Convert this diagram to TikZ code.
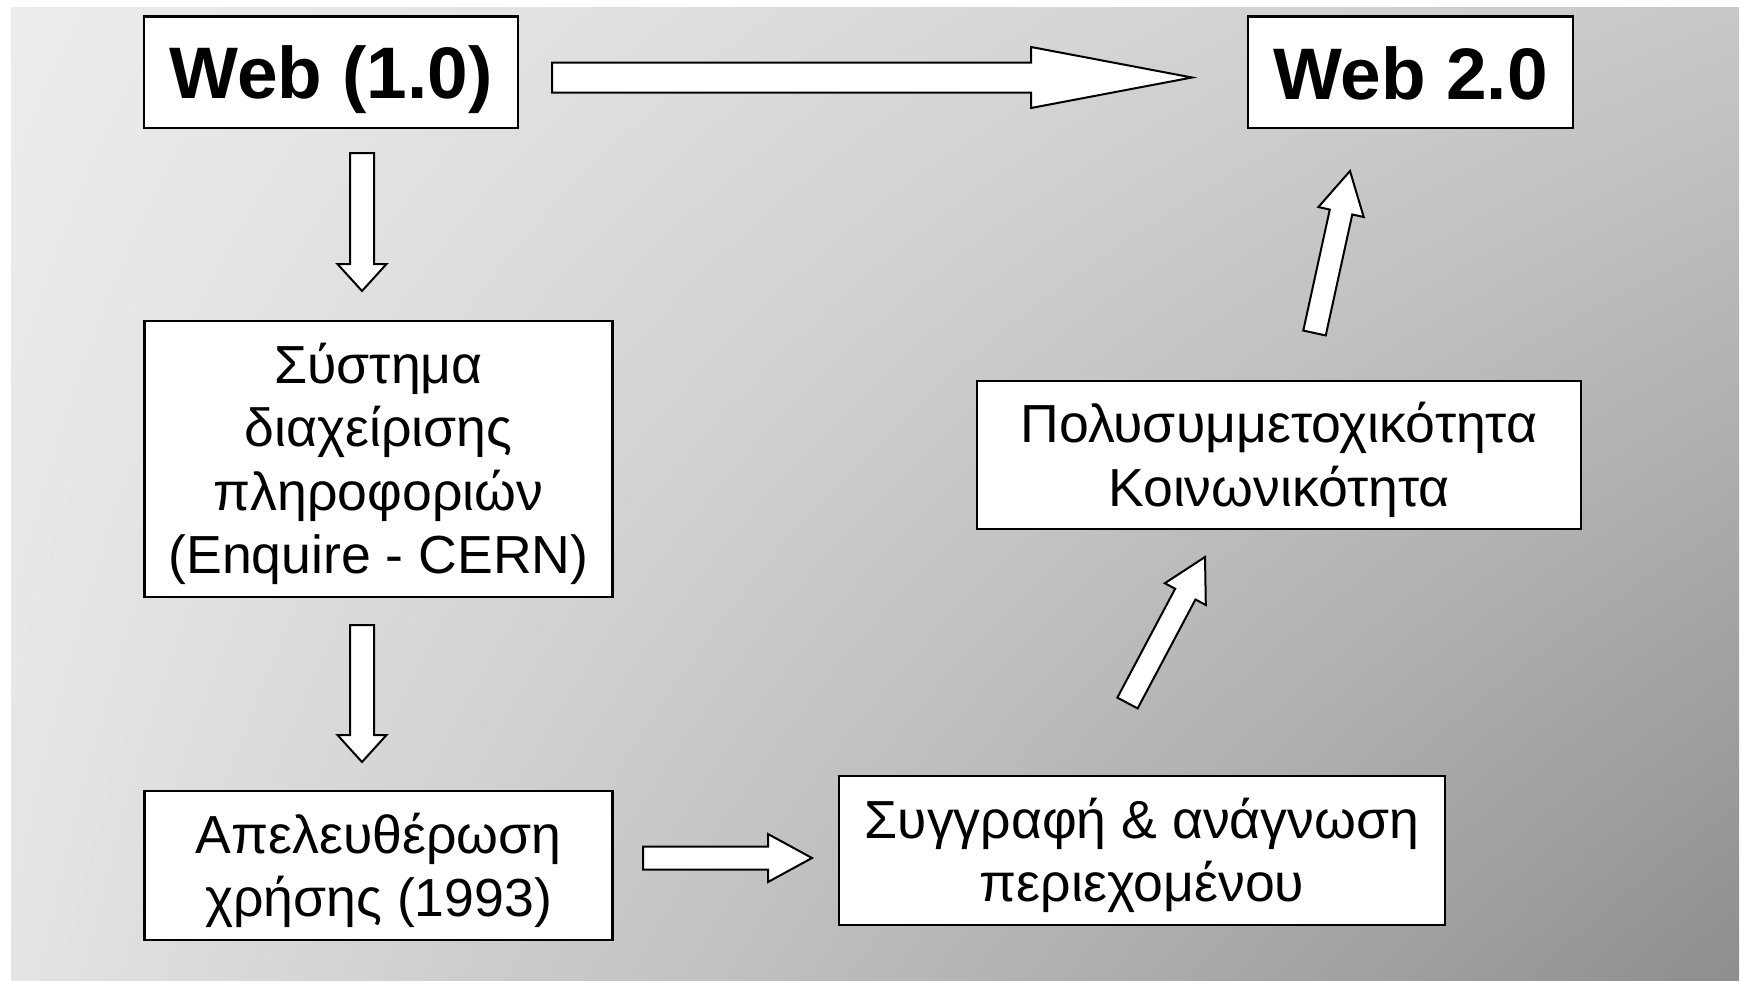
\documentclass[tikz,border=0pt]{standalone}
\usepackage{fontspec}
\setmainfont{Liberation Sans}
\usetikzlibrary{calc,shadings}
\definecolor{bgUL}{HTML}{EDEDED}
\definecolor{bgUR}{HTML}{C8C8C8}
\definecolor{bgLL}{HTML}{E4E4E4}
\definecolor{bgLR}{HTML}{8E8E8E}
\tikzset{
  box/.style={draw=black, line width=1.1pt, fill=white, inner sep=0pt},
  titletext/.style={inner sep=0pt, align=center, font=\fontsize{36.5}{44}\selectfont\bfseries},
  bodytext/.style={inner sep=0pt, align=center, font=\fontsize{26.8}{31.7}\selectfont},
  fatarrowstyle/.style={draw=black, line width=1pt, fill=white, line join=miter},
}
\newcommand\fatarrow[5]{%
  \coordinate (fa-h) at ($(#2)!#5!(#1)$);
  \draw[fatarrowstyle] ($(#1)!#3!90:(#2)$) -- ($(fa-h)!#3!-90:(#1)$) -- ($(fa-h)!#4!-90:(#1)$) -- (#2)
    -- ($(fa-h)!#4!90:(#1)$) -- ($(fa-h)!#3!90:(#1)$) -- ($(#1)!#3!-90:(#2)$) -- cycle;}
\begin{document}
\begin{tikzpicture}[x=0.5pt, y=-0.5pt]
\useasboundingbox (0,0) rectangle (1743,980);
\shade[upper left=bgUL, upper right=bgUR, lower left=bgLL, lower right=bgLR] (11,7) rectangle (1739,980);

% boxes
\node[box, minimum width=186.75pt, minimum height=55.6pt] (web1) at (331,72) {};
\node[box, minimum width=162.5pt, minimum height=55.6pt] (web2) at (1410.5,72) {};
\node[box, minimum width=234pt, minimum height=138pt] (sys) at (378.5,459) {};
\node[box, minimum width=234pt, minimum height=74.5pt] (apel) at (378.5,865.5) {};
\node[box, minimum width=303pt, minimum height=74.5pt] (syg) at (1142,850.5) {};
\node[box, minimum width=302pt, minimum height=74pt] (poly) at (1279,455) {};

% texts
\node[titletext] (web1-t) at ([yshift=-4pt]web1.center) {Web (1.0)};
\node[titletext] (web2-t) at ([yshift=-0.5pt]web2.center) {Web 2.0};
\node[bodytext] (sys-t) at ([yshift=-2.5pt]sys.center) {Σύστημα\\διαχείρισης\\πληροφοριών\\(Enquire - CERN)};
\node[bodytext] (apel-t) at ([yshift=-2.5pt]apel.center) {Απελευθέρωση\\χρήσης (1993)};
\node[bodytext] (syg-t) at ([yshift=-2.5pt]syg.center) {Συγγραφή \& ανάγνωση\\περιεχομένου};
\node[bodytext] (poly-t) at ([yshift=-2.5pt]poly.center) {Πολυσυμμετοχικότητα\\Κοινωνικότητα};

% arrow end points
\coordinate (a1s) at (552,77.5);   \coordinate (a1e) at (1192,77.5);
\coordinate (a2s) at (362,153);    \coordinate (a2e) at (362,291);
\coordinate (a3s) at (362,625);    \coordinate (a3e) at (362,762);
\coordinate (a4s) at (643,858);    \coordinate (a4e) at (812,858);
\coordinate (a5s) at (1127.5,703); \coordinate (a5e) at (1205,557);
\coordinate (a6s) at (1314.5,333); \coordinate (a6e) at (1350,171);

\fatarrow{a1s}{a1e}{7.5pt}{15.25pt}{80.5pt}
\fatarrow{a2s}{a2e}{6pt}{12.25pt}{13.5pt}
\fatarrow{a3s}{a3e}{6pt}{12.25pt}{13.5pt}
\fatarrow{a4s}{a4e}{5.75pt}{12pt}{22pt}
\fatarrow{a5s}{a5e}{5.75pt}{11.6pt}{21pt}
\fatarrow{a6s}{a6e}{5.75pt}{11.6pt}{21pt}
\end{tikzpicture}
\end{document}
